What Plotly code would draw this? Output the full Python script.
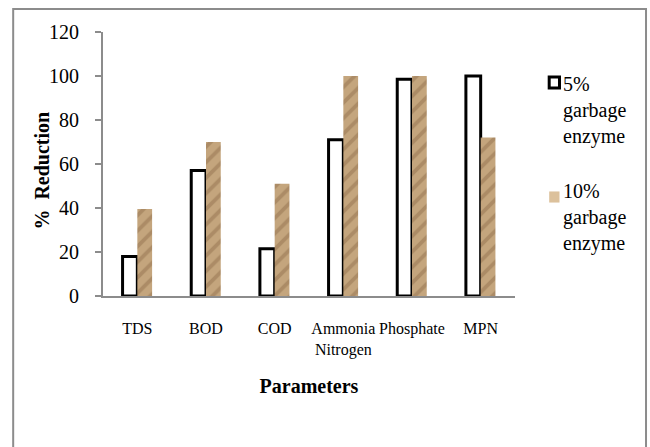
import plotly.graph_objects as go

# Treatment results: percentage reduction per water-quality parameter
categories = ["TDS", "BOD", "COD", "Ammonia Nitrogen", "Phosphate", "MPN"]
tick_labels = ["TDS", "BOD", "COD", "Ammonia<br>Nitrogen", "Phosphate", "MPN"]
reduction_5 = [18, 57, 21.5, 71, 98.5, 100]
reduction_10 = [39.5, 70, 51, 100, 100, 72]
y_ticks = [0, 20, 40, 60, 80, 100, 120]
series_names = ["5%<br>garbage<br>enzyme", "10%<br>garbage<br>enzyme"]

serif = "Liberation Serif"
axis_grey = "#8c8c8c"
tan = "#c4a57d"

fig = go.Figure()

fig.add_trace(go.Bar(
    x=categories,
    y=reduction_5,
    name=series_names[0],
    showlegend=False,
    marker=dict(color="white", line=dict(color="black", width=3)),
))

fig.add_trace(go.Bar(
    x=categories,
    y=reduction_10,
    name=series_names[1],
    showlegend=False,
    marker=dict(
        color=tan,
        line=dict(width=0),
        pattern=dict(shape="/", fgcolor="#7d5c3a", fgopacity=0.35,
                     size=11, solidity=0.35),
    ),
))

# Key on the right: a swatch and a three-line label per series
key_rows = [
    dict(name=series_names[0], label_y=0.7045, box_y=(0.788, 0.830),
         fill="white", edge="black", edge_w=3),
    dict(name=series_names[1], label_y=0.2955, box_y=(0.354, 0.396),
         fill="#dcc19c", edge="rgba(0,0,0,0)", edge_w=0),
]
key_shapes = []
key_labels = []
for row in key_rows:
    key_shapes.append(dict(
        type="rect", xref="paper", yref="paper",
        x0=1.083, x1=1.108, y0=row["box_y"][0], y1=row["box_y"][1],
        fillcolor=row["fill"], line=dict(color=row["edge"], width=row["edge_w"]),
    ))
    key_labels.append(dict(
        text=row["name"], xref="paper", yref="paper",
        x=1.112, y=row["label_y"], xanchor="left", yanchor="middle",
        align="left", showarrow=False,
        font=dict(family=serif, size=20, color="black"),
    ))

fig.update_layout(
    width=650,
    height=447,
    margin=dict(l=103, r=135, t=32, b=151),
    paper_bgcolor="white",
    plot_bgcolor="white",
    barmode="group",
    bargap=0.57,
    bargroupgap=0,
    font=dict(family=serif, color="black", size=16),
    showlegend=False,
    xaxis=dict(
        type="category",
        tickmode="array",
        tickvals=categories,
        ticktext=tick_labels,
        tickfont=dict(family=serif, size=16),
        ticks="",
        ticklabelstandoff=17,
        showline=True,
        linecolor=axis_grey,
        linewidth=2,
        showgrid=False,
        zeroline=False,
        title=dict(text="<b>Parameters</b>",
                   font=dict(family=serif, size=20), standoff=21),
    ),
    yaxis=dict(
        range=[0, 120],
        tickmode="array",
        tickvals=y_ticks,
        tickfont=dict(family=serif, size=20),
        ticks="outside",
        ticklen=6,
        tickcolor=axis_grey,
        tickwidth=1.5,
        ticklabelstandoff=12,
        showline=True,
        linecolor=axis_grey,
        linewidth=2,
        showgrid=False,
        zeroline=False,
    ),
    annotations=[dict(
        text="<b>%  Reduction</b>",
        textangle=-90,
        xref="paper", yref="paper",
        x=-0.148, y=0.475,
        xanchor="center", yanchor="middle",
        showarrow=False,
        font=dict(family=serif, size=20, color="black"),
    )] + key_labels,
    shapes=[dict(
        type="rect", xref="paper", yref="paper",
        x0=-0.218, x1=1.318, y0=-0.58, y1=1.087,
        line=dict(color=axis_grey, width=2),
        fillcolor="rgba(0,0,0,0)", layer="below",
    )] + key_shapes,
)

fig.write_html("out.html")
